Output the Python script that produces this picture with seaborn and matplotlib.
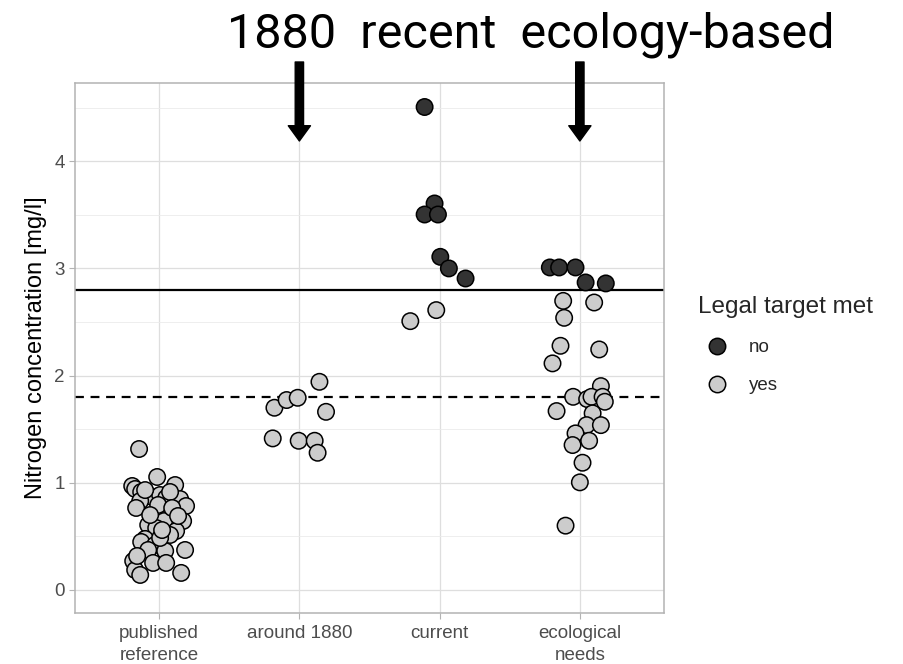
import numpy as np
import pandas as pd
import matplotlib
matplotlib.use("Agg")
import matplotlib.pyplot as plt
from matplotlib.lines import Line2D
from matplotlib.ticker import MultipleLocator
import seaborn as sns

categories = ["published\nreference", "around 1880", "current", "ecological\nneeds"]

# nitrogen values, plus the horizontal jitter of each point
pub_vals = [1.315, 1.054, 0.970, 0.942, 0.979, 0.914, 0.895, 0.867, 0.886, 0.858,
            0.848, 0.783, 0.830, 0.765, 0.718, 0.643, 0.643, 0.606, 0.578, 0.550,
            0.513, 0.476, 0.448, 0.420, 0.373, 0.364, 0.373, 0.270, 0.252, 0.252,
            0.186, 0.140, 0.159, 0.932, 0.914, 0.793, 0.765, 0.699, 0.690, 0.485,
            0.317, 0.559]
pub_jit = [-0.143, -0.014, -0.192, -0.171, 0.114, -0.128, -0.086, -0.050, 0.007, 0.050,
           0.150, 0.192, -0.135, -0.164, 0.078, 0.036, 0.171, -0.078, -0.021, 0.121,
           0.078, -0.100, -0.128, -0.029, -0.078, 0.043, 0.185, -0.185, -0.043, 0.050,
           -0.171, -0.135, 0.157, -0.100, 0.078, -0.007, 0.093, -0.064, 0.135, 0.007,
           -0.157, 0.021]

old_vals = [1.942, 1.700, 1.772, 1.793, 1.662, 1.414, 1.392, 1.392, 1.280]
old_jit = [0.143, -0.178, -0.091, -0.012, 0.190, -0.190, -0.005, 0.109, 0.130]

cur_vals = [4.506, 3.606, 3.503, 3.503, 3.108, 3.000, 2.906, 2.611, 2.508]
cur_jit = [-0.107, -0.036, -0.107, -0.012, 0.005, 0.066, 0.185, -0.024, -0.209]
cur_met = ["no", "no", "no", "no", "no", "no", "no", "yes", "yes"]

eco_vals = [3.009, 3.009, 3.009, 2.869, 2.860, 2.697, 2.682, 2.539, 2.278, 2.244,
            2.114, 1.902, 1.802, 1.781, 1.802, 1.802, 1.756, 1.669, 1.648, 1.538,
            1.538, 1.461, 1.392, 1.352, 1.187, 1.004, 0.600]
eco_jit = [-0.214, -0.148, -0.031, 0.041, 0.185, -0.119, 0.102, -0.112, -0.138, 0.138,
           -0.195, 0.150, -0.048, 0.052, 0.083, 0.162, 0.178, -0.166, 0.091, 0.048,
           0.150, -0.031, 0.066, -0.052, 0.019, 0.000, -0.102]
eco_met = ["no"] * 5 + ["yes"] * 22

legal_target = 2.8
ecology_target = 1.8

rows = []
for i, (vals, jit, met) in enumerate([
        (pub_vals, pub_jit, ["yes"] * len(pub_vals)),
        (old_vals, old_jit, ["yes"] * len(old_vals)),
        (cur_vals, cur_jit, cur_met),
        (eco_vals, eco_jit, eco_met)]):
    for v, j, m in zip(vals, jit, met):
        rows.append({"pos": i + j, "nitrogen": v, "Legal target met": m})
df = pd.DataFrame(rows)

sns.set_style("white")
plt.rcParams["font.family"] = ["Liberation Sans", "DejaVu Sans"]

colors = {"no": "#333333", "yes": "#CCCCCC"}

fig = plt.figure(figsize=(9.04, 6.64), dpi=100)
ax = fig.add_axes([75 / 904, 1 - 613 / 664, (664 - 75) / 904, (613 - 83) / 664])

ax.axhline(legal_target, color="black", lw=1.6, zorder=2)
ax.axhline(ecology_target, color="black", lw=1.6, ls=(0, (4, 3)), zorder=2)

sns.scatterplot(data=df, x="pos", y="nitrogen", hue="Legal target met",
                palette=colors, hue_order=["no", "yes"], s=140,
                edgecolor="black", linewidth=1.1, alpha=1, legend=False,
                ax=ax, zorder=3)

ax.set_xlim(-0.6, 3.6)
ax.set_ylim(-0.215, 4.73)
ax.set_xticks(range(len(categories)))
ax.set_xticklabels(categories, linespacing=1.38)
ax.yaxis.set_major_locator(MultipleLocator(1))
ax.yaxis.set_minor_locator(MultipleLocator(0.5))
ax.set_xlabel("")
ax.set_ylabel("Nitrogen concentration [mg/l]", fontsize=17, color="black", labelpad=5)

ax.grid(which="major", color="#DEDEDE", lw=0.9, zorder=0)
ax.grid(which="minor", axis="y", color="#EBEBEB", lw=0.6, zorder=0)
ax.set_axisbelow(True)
for sp in ax.spines.values():
    sp.set_color("#B3B3B3")
    sp.set_linewidth(1.1)
ax.tick_params(which="major", length=4.5, width=0.8, color="#B3B3B3",
               labelsize=13.5, labelcolor="#4D4D4D", pad=3, left=True, bottom=True)
ax.tick_params(axis="x", pad=4)
ax.tick_params(which="minor", length=0, left=False)

handles = [Line2D([], [], marker="o", ls="", markersize=11.8, markerfacecolor=colors[k],
                  markeredgecolor="black", markeredgewidth=1.1) for k in ["no", "yes"]]
ax.legend(handles, ["no", "yes"], title="Legal target met", loc="upper left",
          bbox_to_anchor=(698 / 904, 1 - 296 / 664), bbox_transform=fig.transFigure,
          frameon=False, title_fontsize=17.5, fontsize=13.5, alignment="left",
          handlelength=2.0, handletextpad=0.7, labelspacing=1.12, borderpad=0,
          borderaxespad=0)

fig.text(531 / 904, 1 - 47 / 664, "1880  recent  ecology-based",
         family=["Roboto", "DejaVu Sans"],
         fontsize=35, ha="center", va="baseline", color="black")

for xi in [1, 3]:
    ax.annotate("", xy=(xi, 1 - 141 / 664), xytext=(xi, 1 - 62 / 664),
                xycoords=("data", "figure fraction"),
                textcoords=("data", "figure fraction"),
                arrowprops=dict(arrowstyle="simple,head_length=11,head_width=16,tail_width=6",
                                mutation_scale=1, color="black", shrinkA=0, shrinkB=0),
                annotation_clip=False)

fig.savefig("out.png", dpi=100)
